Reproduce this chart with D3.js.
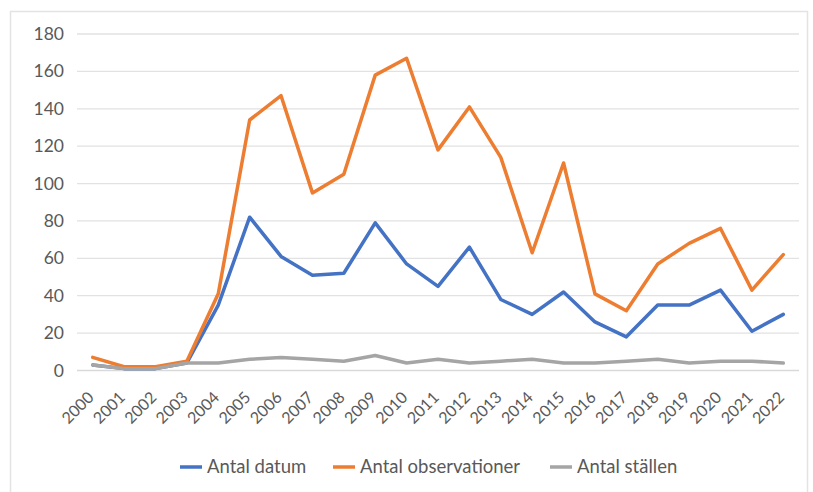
<!DOCTYPE html>
<html><head><meta charset="utf-8">
<script src="https://cdn.jsdelivr.net/npm/d3@7"></script>
<style>
html,body{margin:0;padding:0;background:#fff;}
svg{display:block;font-family:Lato,"Noto Sans",sans-serif;}
</style></head>
<body>
<svg id="chart" width="813" height="492"></svg>
<script>
const years = ["2000","2001","2002","2003","2004","2005","2006","2007","2008","2009","2010","2011","2012","2013","2014","2015","2016","2017","2018","2019","2020","2021","2022"];
const antalDatum = [3,1,1,4,35,82,61,51,52,79,57,45,66,38,30,42,26,18,35,35,43,21,30];
const antalObservationer = [7,2,2,5,41,134,147,95,105,158,167,118,141,114,63,111,41,32,57,68,76,43,62];
const antalStallen = [3,1,1,4,4,6,7,6,5,8,4,6,4,5,6,4,4,5,6,4,5,5,4];
const seriesNames = ["Antal datum","Antal observationer","Antal ställen"];
const seriesColors = ["#4472C4","#ED7D31","#A5A5A5"];
const yTicks = [0,20,40,60,80,100,120,140,160,180];

const svg = d3.select("#chart");
// chart border
svg.append("rect").attr("x",10.5).attr("y",11.5).attr("width",797).attr("height",490)
  .attr("fill","#fff").attr("stroke","#e3e3e3").attr("stroke-width",1.5);

const plotLeft = 77, plotRight = 799, plotTop = 34, plotBottom = 370.5;
const x = d3.scaleBand().domain(years).range([plotLeft,plotRight]);
const y = d3.scaleLinear().domain([0,180]).range([plotBottom,plotTop]);

// gridlines
svg.append("g").selectAll("line").data(yTicks).join("line")
  .attr("x1",plotLeft).attr("x2",plotRight)
  .attr("y1",d=>y(d)).attr("y2",d=>y(d))
  .attr("stroke",d=>d===0?"#d9d9d9":"#e2e2e2").attr("stroke-width",1.3);

// y axis labels
const yAxis = d3.axisLeft(y).tickValues(yTicks).tickSize(0).tickPadding(0);
const gy = svg.append("g").attr("transform",`translate(64,0)`).call(yAxis);
gy.select(".domain").remove();
gy.selectAll("text").attr("fill","#595959").style("font-size","17.5px").style("font-family","Lato,'Noto Sans',sans-serif");

// x axis labels
const xAxis = d3.axisBottom(x).tickSize(0).tickPadding(0);
const gx = svg.append("g").attr("transform",`translate(0,${plotBottom})`).call(xAxis);
gx.select(".domain").remove();
gx.selectAll("text")
  .attr("fill","#595959").style("font-size","16px").style("font-family","Lato,'Noto Sans',sans-serif")
  .attr("text-anchor","end").attr("dy",null).attr("y",0)
  .attr("transform","translate(2,28) rotate(-45)");

// lines
const cx = d => x(d) + x.bandwidth()/2;
const data = [antalDatum, antalObservationer, antalStallen];
const line = d3.line().x((d,i)=>cx(years[i])).y(d=>y(d));
[0,1,2].forEach(k=>{
  svg.append("path").datum(data[k]).attr("d",line)
    .attr("fill","none").attr("stroke",seriesColors[k]).attr("stroke-width",3.5)
    .attr("stroke-linejoin","round").attr("stroke-linecap","round");
});

// legend
const legendX = [180,333,550];
const lg = svg.append("g");
seriesNames.forEach((n,i)=>{
  const g = lg.append("g").attr("transform",`translate(${legendX[i]},467)`);
  g.append("line").attr("x1",0).attr("x2",22).attr("y1",0).attr("y2",0)
    .attr("stroke",seriesColors[i]).attr("stroke-width",3.5);
  g.append("text").attr("x",27).attr("y",0).attr("dy","0.35em")
    .attr("fill","#595959").style("font-size","18.5px").text(n);
});
</script>
</body></html>
